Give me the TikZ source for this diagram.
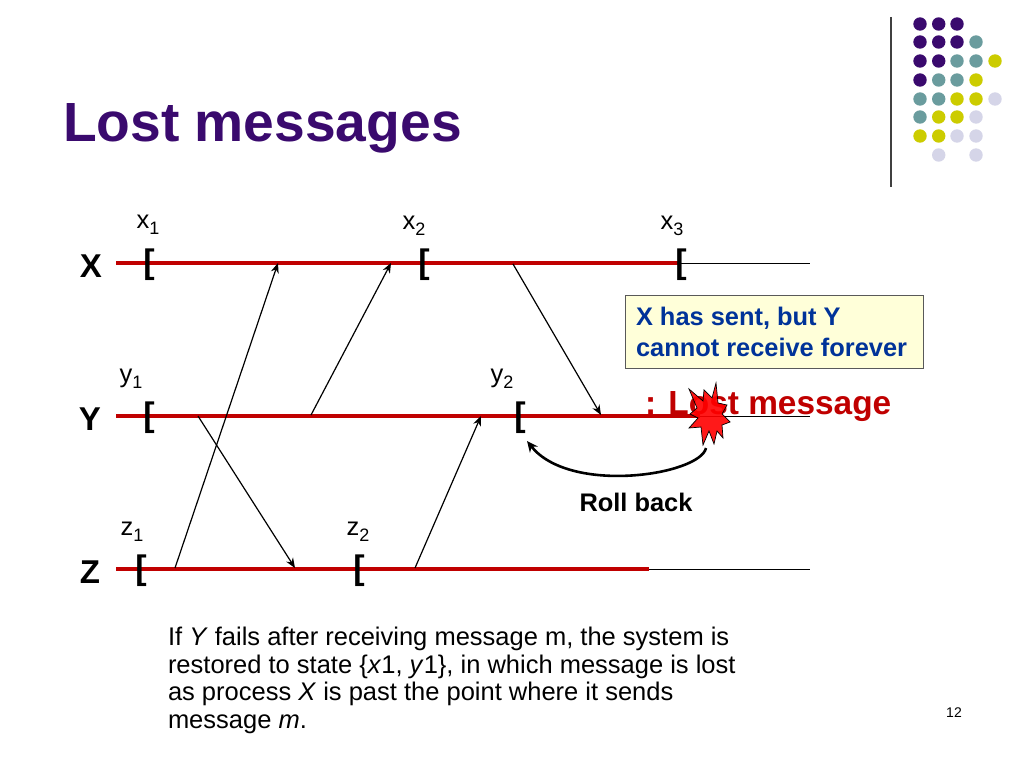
\documentclass[tikz,border=0pt]{standalone}
\usepackage{fontspec}
\setmainfont{Liberation Sans}
\usetikzlibrary{arrows.meta}
\definecolor{titlepurple}{HTML}{3A0A6E}
\definecolor{dotp}{HTML}{3A0A6E}
\definecolor{dott}{HTML}{6A9C9E}
\definecolor{doty}{HTML}{CCCC00}
\definecolor{dotl}{HTML}{D5D5E8}
\definecolor{tlred}{HTML}{C00000}
\definecolor{notebg}{HTML}{FFFFD9}
\definecolor{noteblue}{HTML}{003399}
\definecolor{burst}{HTML}{FF0000}
\newcommand{\fs}[1]{\fontsize{#1}{#1}\selectfont}
\newcommand{\evsub}[2]{#1\raisebox{-6pt}{\fs{18}#2}}
\tikzset{
  every node/.style={inner sep=0pt, outer sep=0pt},
  dotc/.style={circle, minimum size=13.4pt},
  tline/.style={line width=4.5pt, tlred},
  thinl/.style={line width=1pt, black},
  msg/.style={line width=1.2pt, black, -{Stealth[length=10pt,width=8pt]}},
  procl/.style={font=\fs{33}\bfseries, anchor=center},
  brk/.style={font=\fs{34}\bfseries, anchor=center},
  evl/.style={font=\fs{25.5}, anchor=center},
}
\begin{document}
\begin{tikzpicture}[x=1pt,y=-1pt]
\useasboundingbox[fill=white] (0,0) rectangle (1024,768);
% decoration
\coordinate (rt) at (891,17); \coordinate (rb) at (891,187);
\draw[line width=1.2pt, black!75] (rt) -- (rb);
\foreach \c/\x/\y in {dotp/920/24,dotp/938.7/24,dotp/957/24,
  dotp/920/42,dotp/938.7/42,dotp/957/42,dott/976/42,
  dotp/920/61,dotp/938.7/61,dott/957/61,dott/976/61,doty/995/61,
  dotp/920/80,dott/938.7/80,dott/957/80,doty/976/80,
  dott/920/99,dott/938.7/99,doty/957/99,doty/976/99,dotl/995/99,
  dott/920/117,doty/938.7/117,doty/957/117,dotl/976/117,
  doty/920/136,doty/938.7/136,dotl/957/136,dotl/976/136,
  dotl/938.7/155,dotl/976/155}
  \node[dotc, fill=\c] at (\x,\y) {};
\node[anchor=base west, font=\fs{55.2}\bfseries, text=titlepurple] (title) at (63,141) {Lost messages};
% timelines
\coordinate (xs) at (116,263); \coordinate (xr) at (680,263); \coordinate (xe) at (810,263);
\coordinate (ys) at (116,416); \coordinate (yr) at (700,416); \coordinate (ye) at (810,416);
\coordinate (zs) at (116,569); \coordinate (zr) at (649,569); \coordinate (ze) at (810,569);
\draw[thinl] (xs) -- (xe);
\draw[thinl] (ys) -- (ye);
\draw[thinl] (zs) -- (ze);
\draw[tline] (xs) -- (xr);
\draw[tline] (ys) -- (yr);
\draw[tline] (zs) -- (zr);
\node[procl] (X) at (91,266) {X};
\node[procl] (Y) at (90,419) {Y};
\node[procl] (Z) at (90,572) {Z};
% brackets
\node[brk] (bx1) at (149,265) {[};
\node[brk] (bx2) at (424,265) {[};
\node[brk] (bx3) at (681,265) {[};
\node[brk] (by1) at (149,418) {[};
\node[brk] (by2) at (520,418) {[};
\node[brk] (bz1) at (141,571) {[};
\node[brk] (bz2) at (359,571) {[};
% labels
\node[evl] (lx1) at (148,225) {\evsub{x}{1}};
\node[evl] (lx2) at (414,226) {\evsub{x}{2}};
\node[evl] (lx3) at (672,226) {\evsub{x}{3}};
\node[evl] (ly1) at (131,379) {\evsub{y}{1}};
\node[evl] (ly2) at (502,379) {\evsub{y}{2}};
\node[evl] (lz1) at (132,532) {\evsub{z}{1}};
\node[evl] (lz2) at (358,532) {\evsub{z}{2}};
% messages
\coordinate (m1a) at (175,568); \coordinate (m1b) at (278,263);
\coordinate (m2a) at (311,415); \coordinate (m2b) at (391,263);
\coordinate (m3a) at (198,416); \coordinate (m3b) at (295,568);
\coordinate (m4a) at (415,568); \coordinate (m4b) at (481,416);
\coordinate (m5a) at (513,264); \coordinate (m5b) at (601,415);
\draw[msg] (m1a) -- (m1b);
\draw[msg] (m2a) -- (m2b);
\draw[msg] (m3a) -- (m3b);
\draw[msg] (m4a) -- (m4b);
\draw[msg] (m5a) -- (m5b);
% note
\node[draw=black!65, line width=1pt, fill=notebg, anchor=north west, minimum width=298pt, minimum height=73pt] (note) at (625,295) {};
\node[anchor=base west, font=\fs{25.4}\bfseries, text=noteblue] (n1) at (636,325) {X has sent, but Y};
\node[anchor=base west, font=\fs{25.4}\bfseries, text=noteblue] (n2) at (636,356) {cannot receive forever};
% burst
\node[anchor=base west, font=\fs{33.4}\bfseries, text=tlred] (lost) at (645,414) {: Lost message};
\draw[fill=burst, fill opacity=.9, draw=black, line width=.7pt] (716,383) -- (712,398) -- (704,390) -- (703,401) -- (689,389) -- (697,408) -- (690,414) -- (698,418) -- (689,428) -- (701,427) -- (703,445) -- (709,431) -- (714,444) -- (717,431) -- (723,438) -- (722,425) -- (730,422) -- (722,414) -- (727,405) -- (718,403) -- cycle;
\coordinate (bb) at (706,448); \coordinate (be) at (527,441);
\draw[line width=2.6pt, black, -{Stealth[length=11pt,width=10pt]}] (bb) .. controls (700,475) and (570,495) .. (be);
\node[anchor=base, font=\fs{25.4}\bfseries] (rb2) at (636,511) {Roll back};
% body
\node[anchor=base west, font=\fs{25.5}] (t1) at (168,645) {If \textit{Y} fails after receiving message m, the system is};
\node[anchor=base west, font=\fs{25.5}] (t2) at (168,673) {restored to state \{\textit{x}1, \textit{y}1\}, in which message is lost};
\node[anchor=base west, font=\fs{25.5}] (t3) at (168,700) {as process \textit{X} is past the point where it sends};
\node[anchor=base west, font=\fs{25.5}] (t4) at (168,728) {message \textit{m}.};
\node[font=\fs{14}] (pg) at (954,713) {12};
\end{tikzpicture}
\end{document}
